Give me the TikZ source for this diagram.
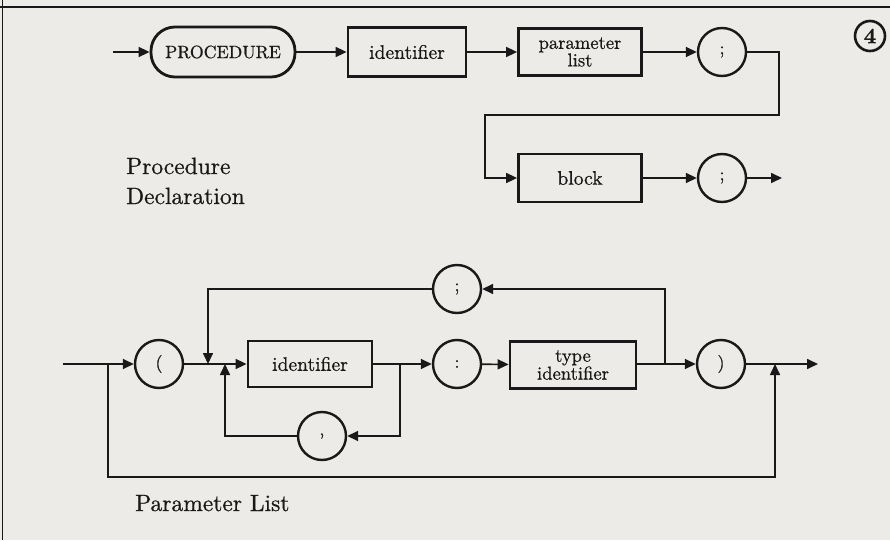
\documentclass[tikz,border=0pt]{standalone}
\usepackage{fontspec}
\setmainfont{lmroman10-regular.otf}[FakeBold=0.7, BoldFont=lmroman10-bold.otf]
\usetikzlibrary{arrows.meta}
\definecolor{paper}{RGB}{236,235,231}
\definecolor{ink}{RGB}{25,25,25}
\tikzset{
  conn/.style={line width=1.6pt, draw=ink},
  arr/.style={conn, -{Triangle[length=11pt,width=10pt]}},
  boxnode/.style={draw=ink, line width=2.8pt, rectangle, inner sep=0pt, text=ink,
    font=\fontsize{19.6}{17}\selectfont, align=center},
  termnode/.style={circle, draw=ink, line width=2.4pt, minimum size=48pt, inner sep=0pt, text=ink,
    font=\fontsize{18}{18}\selectfont},
  lbl/.style={anchor=base west, inner sep=0pt, text=ink, font=\fontsize{23.5}{23.5}\selectfont}
}
\begin{document}
\begin{tikzpicture}[x=1pt,y=-1pt]
\useasboundingbox (0,0) rectangle (890,540);
\fill[paper] (0,0) rectangle (890,540);
% frame
\draw[ink, line width=1.4pt] (0,7) -- (890,7);
\draw[ink, line width=1.4pt] (2.5,0) -- (2.5,540);
% circled 4
\node[circle, draw=ink, line width=2.6pt, minimum size=30pt, inner sep=0pt, text=ink,
  font=\bfseries\fontsize{22}{22}\selectfont] (num) at (870,36) {4};

% ---------- Procedure Declaration ----------
\coordinate (s1) at (113,52);
\node[boxnode, rounded corners=24pt, minimum width=144pt, minimum height=50pt,
  font=\fontsize{17.8}{17.8}\selectfont] (proc) at (223,52) {PROCEDURE};
\node[boxnode, minimum width=118pt, minimum height=49pt] (id1) at (407,52) {identifier};
\node[boxnode, minimum width=123pt, minimum height=47pt, font=\fontsize{18.6}{15.5}\selectfont] (plist) at (580,52) {parameter\\list};
\node[termnode] (semi1) at (722,52) {;};
\node[boxnode, minimum width=123pt, minimum height=48pt] (block) at (580,178) {block};
\node[termnode] (semi2) at (722,178) {;};
\coordinate (e1) at (782,178);

\draw[arr] (s1) -- (proc);
\draw[arr] (proc) -- (id1);
\draw[arr] (id1) -- (plist);
\draw[arr] (plist) -- (semi1);
\draw[arr] (semi1.east) -- (779,52) -- (779,115) -- (485,115) -- (485,178) -- (block.west);
\draw[arr] (block) -- (semi2);
\draw[arr] (semi2) -- (e1);

\node[lbl] (l1) at (126,174) {Procedure};
\node[lbl] (l2) at (126,204) {Declaration};

% ---------- Parameter List ----------
\coordinate (s2) at (63,364);
\coordinate (jb) at (108,364);
\coordinate (ja) at (208,364);
\coordinate (jc) at (225,364);
\coordinate (jd) at (400,364);
\coordinate (je) at (665,364);
\coordinate (jf) at (775,364);
\coordinate (e2) at (818,364);
\node[termnode] (lp) at (159,364) {(};
\node[boxnode, minimum width=124pt, minimum height=46pt] (id2) at (310,364) {identifier};
\node[termnode] (colon) at (457,364) {:};
\node[boxnode, minimum width=126pt, minimum height=47pt, font=\fontsize{18.6}{15.5}\selectfont] (tid) at (573,365) {type\\identifier};
\node[termnode] (rp) at (721,364) {)};
\node[termnode] (semi3) at (457,289) {;};
\node[termnode] (comma) at (322,436) {,};

\draw[arr] (s2) -- (lp);
\draw[arr] (lp) -- (id2);
\draw[arr] (id2) -- (colon);
\draw[arr] (colon) -- (tid);
\draw[arr] (tid.east |- je) -- (rp);
\draw[arr] (rp) -- (e2);
% semicolon loop
\draw[arr] (je) -- (665,289) -- (semi3.east);
\draw[arr] (semi3.west) -- (208,289) -- (ja);
% comma loop
\draw[arr] (jd) -- (400,436) -- (comma.east);
\draw[arr] (comma.west) -- (225,436) -- (jc);
% bypass
\draw[arr] (jb) -- (108,477) -- (775,477) -- (jf);

\node[lbl] (l3) at (135,511) {Parameter List};
\end{tikzpicture}
\end{document}
